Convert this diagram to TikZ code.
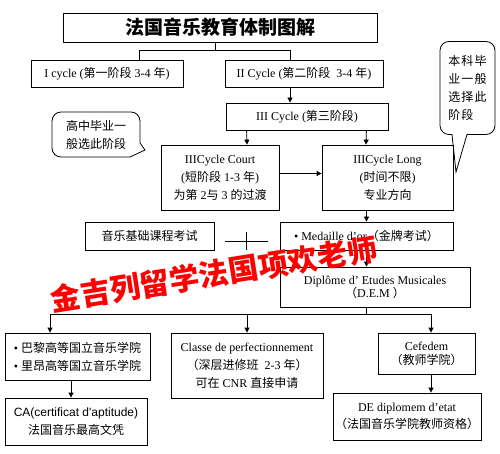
\documentclass[tikz,border=0pt]{standalone}
\usepackage{fontspec}
\setmainfont{Liberation Serif}
\newfontfamily\cjk{Noto Sans CJK SC}
\newfontfamily\cjkwide{Noto Sans CJK SC}[LetterSpace=10]
\newfontfamily\arialfont{Liberation Sans}
\newcommand{\zh}[1]{{\cjk #1}}
\usepackage{xcolor}
\usepackage{tikz}
\usetikzlibrary{arrows.meta, positioning}

\begin{document}
\begin{tikzpicture}[
    x=1pt, y=-1pt,
    block/.style={rectangle, draw, line width=0.8pt, align=center, inner sep=2pt, font=\fontsize{12}{18}\selectfont},
    bubble/.style={rectangle, draw, rounded corners=9pt, line width=0.8pt, outer sep=0pt, align=left, inner sep=2pt, font=\fontsize{12}{18}\selectfont},
    arrow/.style={-{Triangle[length=5pt, width=5pt]}, line width=0.8pt},
    link/.style={line width=0.8pt},
]
    \useasboundingbox (0,0) rectangle (500,454);

    % Title
    \node[block, minimum width=314pt, minimum height=29pt, font=\fontsize{19}{22}\selectfont] (title) at (220,27.5) {\cjk\bfseries 法国音乐教育体制图解};

    % Cycles
    \node[block, minimum width=152pt, minimum height=27pt] (cycleone) at (107,73.5) {I cycle (\zh{第一阶段} 3-4 \zh{年})};
    \node[block, minimum width=158pt, minimum height=27pt] (cycletwo) at (304,73.5) {II Cycle (\zh{第二阶段}\ \ 3-4 \zh{年})};
    \node[block, minimum width=162pt, minimum height=27pt] (cyclethree) at (307,116.5) {III Cycle (\zh{第三阶段})};
    \node[block, minimum width=118pt, minimum height=65pt] (court) at (220,177.5) {IIICycle Court\\(\zh{短阶段} 1-3 \zh{年})\\\zh{为第} 2\zh{与} 3 \zh{的过渡}};
    \node[block, minimum width=131pt, minimum height=65pt] (long) at (387.5,177.5) {IIICycle Long\\(\zh{时间不限})\\\zh{专业方向}};

    % Notes
    \node[bubble, minimum width=88pt, minimum height=45pt] (hsnote) at (96,134.5) {\zh{高中毕业一}\\\zh{般选此阶段}};
    \node[bubble, minimum width=55pt, minimum height=93pt, font=\cjkwide\fontsize{12}{18}\selectfont] (bsnote) at (467.5,88) {本科毕\\业一般\\选择此\\阶段};

    % Exams
    \node[block, minimum width=129pt, minimum height=28pt] (basic) at (149.5,236) {\zh{音乐基础课程考试}};
    \node[inner sep=0pt, minimum width=43pt, minimum height=18pt] (plus) at (246.5,241) {};
    \node[block, minimum width=173pt, minimum height=28pt] (medal) at (366.5,236) {• Medaille d’or\zh{（金牌考试）}};
    \node[block, minimum width=190pt, minimum height=40pt, font=\fontsize{12}{13}\selectfont] (dem) at (375,287) {Diplôme d’ Etudes Musicales\\\zh{（}D.E.M\ \zh{）}};

    % Schools
    \node[block, minimum width=145pt, minimum height=47pt, align=left] (cnsm) at (77.5,356.5) {• \zh{巴黎高等国立音乐学院}\\• \zh{里昂高等国立音乐学院}};
    \node[block, minimum width=142pt, minimum height=47pt] (ca) at (76,421.5) {{\arialfont CA(certificat d'aptitude)}\\\zh{法国音乐最高文凭}};
    \node[block, minimum width=152pt, minimum height=65pt] (classe) at (247,365.5) {Classe de perfectionnement\\\zh{（深层进修班}\ \ 2-3 \zh{年）}\\\zh{可在} CNR \zh{直接申请}};
    \node[block, minimum width=97pt, minimum height=41pt, font=\fontsize{12}{14}\selectfont] (cefedem) at (426.5,353.5) {Cefedem\\\zh{（教师学院）}};
    \node[block, minimum width=146pt, minimum height=47pt, font=\fontsize{12}{17}\selectfont] (de) at (407,416.5) {DE diplomem d’etat\\\zh{（法国音乐学院教师资格）}};

    % Arrows
    \draw[link] ([xshift=-5pt]title.south) -- ++(0,8) coordinate (split);
    \draw[link] ([xshift=32pt]cycleone.north) |- (split) -| ([xshift=-14pt]cycletwo.north);
    \draw[arrow] ([xshift=-14pt]cycletwo.south) -- ([xshift=-17pt]cyclethree.north);
    \draw[arrow] ([xshift=21pt]cyclethree.south west) -- ([xshift=27pt]court.north);
    \draw[arrow] ([xshift=-22pt]cyclethree.south east) -- ([xshift=-21.5pt]long.north);
    \draw[arrow] ([yshift=4pt]court.east) -- ([yshift=4pt]long.west);
    \draw[arrow] (medal.north |- long.south) -- (medal.north);
    \draw[arrow] (medal.south) -- (medal.south |- dem.north);
    \draw[link] (plus.west) -- (plus.east);
    \draw[link] (plus.north) -- (plus.south);
    \draw[link] (medal.south |- dem.south) -- ++(0,7) coordinate (fork);
    \draw[arrow] (fork) -| ([xshift=-27.5pt]cnsm.north);
    \draw[arrow] (fork) -| ([xshift=4.5pt]cefedem.north);
    \draw[arrow] (fork -| classe.north) -- (classe.north);
    \draw[arrow] ([xshift=-6.5pt]cnsm.south) -- ([xshift=-6.5pt]cnsm.south |- ca.north);
    \draw[arrow] ([xshift=4.5pt]cefedem.south) -- ([xshift=4.5pt]cefedem.south |- de.north);

    % Bubble tails
    \coordinate (hstip) at (145,150);
    \coordinate (hsa) at ([yshift=-8.5pt]hsnote.east);
    \coordinate (hsb) at ([xshift=-10pt]hsnote.south east);
    \fill[white] (hsb |- hsa) rectangle ([shift={(2pt,-2pt)}]hsnote.south east);
    \draw[link] (hsa) -- (hstip) -- (hsb);
    \coordinate (bstip) at (456,172);
    \coordinate (bsa) at ([xshift=-15.5pt]bsnote.south);
    \coordinate (bsb) at ([xshift=-0.5pt]bsnote.south);
    \fill[white] ([yshift=1.5pt]bsa) rectangle ([yshift=-1.5pt]bsb);
    \draw[link] (bsa) -- (bstip) -- (bsb);

    % Watermark
    \node[text=red, rotate=9, font=\cjk\bfseries\fontsize{30}{30}\selectfont] (mark) at (214,274) {金吉列留学法国项欢老师};
\end{tikzpicture}
\end{document}
